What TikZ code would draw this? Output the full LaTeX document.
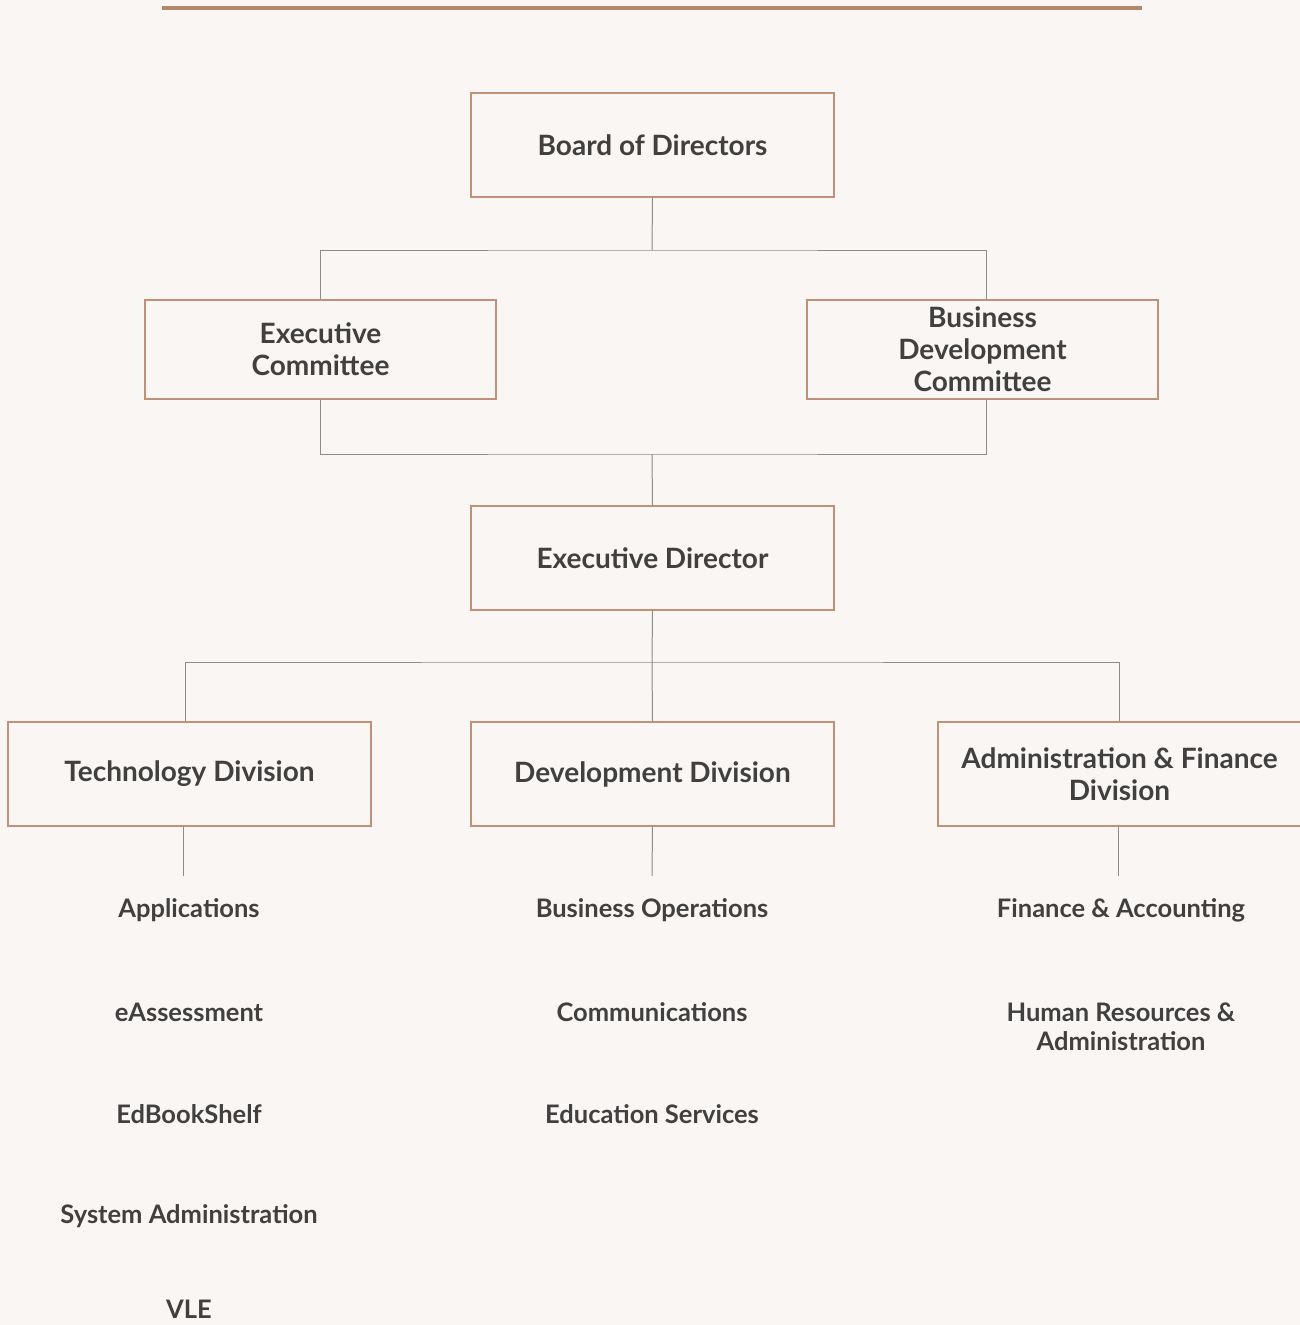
\documentclass[tikz,border=0pt]{standalone}
\usepackage{fontspec}
\setmainfont{Lato}
\definecolor{bg}{HTML}{FAF6F3}
\definecolor{topline}{HTML}{B5876A}
\definecolor{boxline}{HTML}{C0917A}
\definecolor{conn}{HTML}{8C8C8C}
\definecolor{txt}{HTML}{404040}
\begin{document}
\begin{tikzpicture}[x=1pt,y=-1pt,
  orgbox/.style={draw=boxline, line width=1.3pt, fill=bg, minimum width=363pt, minimum height=104pt, inner sep=2pt, align=center, text=txt, font=\fontsize{28}{32}\selectfont\bfseries},
  midbox/.style={orgbox, minimum width=351pt, minimum height=99pt},
  unit/.style={text=txt, align=center, font=\fontsize{25.5}{29}\selectfont\bfseries, inner sep=0pt},
  link/.style={draw=conn, line width=1pt}]
\useasboundingbox[fill=bg] (0,0) rectangle (1300,1325);
\draw[topline, line width=4pt] (162,8) -- (1142,8);

\node[orgbox] (board) at (652.5,145) {Board of Directors};
\node[midbox] (ec) at (320.5,349.5) {Executive\\Committee};
\node[midbox] (bdc) at (982.5,349.5) {Business\\Development\\Committee};
\node[orgbox] (ed) at (652.5,558) {Executive Director};
\node[orgbox] (tech) at (189.5,774) {Technology Division};
\node[orgbox] (dev) at (652.5,774) {Development Division};
\node[orgbox] (adm) at (1119.5,774) {Administration \& Finance\\Division};

\coordinate (j1) at (652,250);
\coordinate (j2) at (652,454);
\coordinate (j3) at (652,662);

\draw[link] (board.south) -- (j1);
\draw[link] (ec.north -| 320,0) |- (j1) -| (bdc.north -| 986,0);
\draw[link] (ec.south -| 320,0) |- (j2) -| (bdc.south -| 986,0);
\draw[link] (j2) -- (ed.north);
\draw[link] (ed.south) -- (j3);
\draw[link] (tech.north -| 185,0) |- (j3) -| (adm.north -| 1119,0);
\draw[link] (j3) -- (dev.north);

\coordinate (t1) at (183,876);
\coordinate (d1) at (652,876);
\coordinate (a1) at (1118,876);
\draw[link] (tech.south -| t1) -- (t1);
\draw[link] (dev.south) -- (d1);
\draw[link] (adm.south -| a1) -- (a1);

\node[unit] (u1) at (189,910) {Applications};
\node[unit] (u2) at (189,1012) {eAssessment};
\node[unit] (u3) at (189,1114) {EdBookShelf};
\node[unit] (u4) at (189,1216) {System Administration};
\node[unit] (u5) at (189,1309) {VLE};
\node[unit] (v1) at (652,910) {Business Operations};
\node[unit] (v2) at (652,1012) {Communications};
\node[unit] (v3) at (652,1114) {Education Services};
\node[unit] (w1) at (1121,910) {Finance \& Accounting};
\node[unit] (w2) at (1121,1027) {Human Resources \&\\Administration};
\end{tikzpicture}
\end{document}
